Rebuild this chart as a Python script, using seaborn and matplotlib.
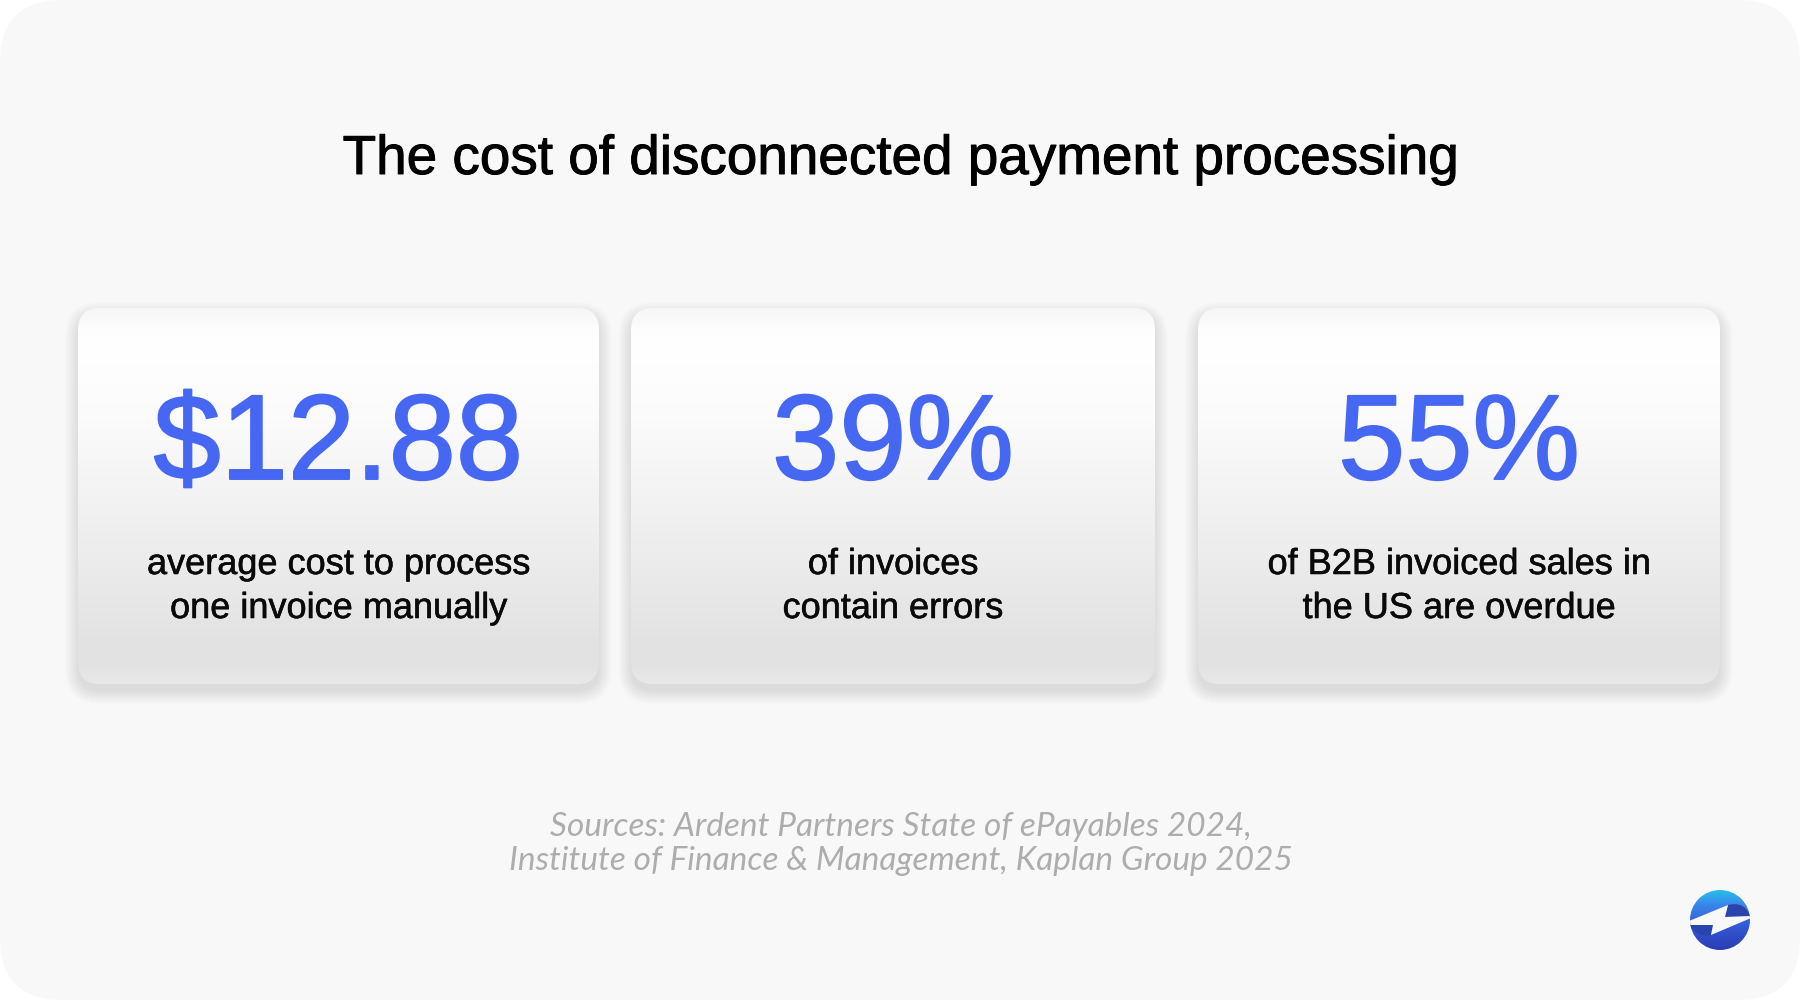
import matplotlib
matplotlib.use("Agg")
import matplotlib.pyplot as plt
import matplotlib.patheffects as pe
import numpy as np
import seaborn as sns
from matplotlib.colors import LinearSegmentedColormap
from matplotlib.patches import Circle, FancyBboxPatch, PathPatch, Polygon
from matplotlib.path import Path

# text content of the graphic
title = "The cost of disconnected payment processing"
stat_values = ["$12.88", "39%", "55%"]
stat_captions = [
    ["average cost to process", "one invoice manually"],
    ["of invoices", "contain errors"],
    ["of B2B invoiced sales in", "the US are overdue"],
]
sources = [
    "Sources: Ardent Partners State of ePayables 2024,",
    "Institute of Finance & Management, Kaplan Group 2025",
]

# card geometry in pixels: left, right
card_spans = [(78, 599), (631, 1155), (1198, 1720)]
card_top, card_bottom = 308, 684
card_radius = 22

BLUE = "#4667f2"
BG = "#f8f8f8"

sns.set_theme(style="white")
plt.rcParams["font.family"] = ["Liberation Sans", "DejaVu Sans"]


def bolder(width):
    return [pe.Stroke(linewidth=width), pe.Normal()]


fig = plt.figure(figsize=(18, 10), dpi=100, facecolor="white")
ax = fig.add_axes([0, 0, 1, 1])
ax.axis("off")

ax.add_patch(FancyBboxPatch((0, 0), 1800, 1000, boxstyle="round,pad=0,rounding_size=62",
                            fc=BG, ec="none", zorder=0))

card_cmap = LinearSegmentedColormap.from_list("card", [
    (0.0, "#f6f6f6"), (0.05, "#fdfdfd"), (0.10, "#ffffff"), (0.30, "#fbfbfb"),
    (0.60, "#efefef"), (0.90, "#e2e2e2"), (0.96, "#e3e3e3"), (1.0, "#e9e9e9"),
])
gradient = np.linspace(0, 1, 256).reshape(-1, 1)

for (x0, x1), value, caption in zip(card_spans, stat_values, stat_captions):
    # soft shadow, stacked translucent layers
    for grow in np.linspace(13, 0, 14):
        ax.add_patch(FancyBboxPatch(
            (x0 - grow, card_top + 7 - grow), x1 - x0 + 2 * grow, card_bottom - card_top + 2 * grow,
            boxstyle=f"round,pad=0,rounding_size={card_radius + grow}",
            fc="#808080", ec="none", alpha=0.010, zorder=1))
    box = FancyBboxPatch((x0, card_top), x1 - x0, card_bottom - card_top,
                         boxstyle=f"round,pad=0,rounding_size={card_radius}",
                         fc="none", ec="none", zorder=2)
    ax.add_patch(box)
    im = ax.imshow(gradient, cmap=card_cmap, vmin=0, vmax=1, aspect="auto", zorder=2,
                   extent=(x0, x1, card_bottom, card_top))
    im.set_clip_path(box)

    cx = (x0 + x1) / 2
    ax.text(cx, 479, value, color=BLUE, fontsize=87, ha="center", va="baseline", zorder=3,
            path_effects=bolder(1.4))
    for line, base in zip(caption, (574, 618)):
        ax.text(cx, base, line, color="#0a0a0a", fontsize=26, ha="center", va="baseline", zorder=3,
                path_effects=bolder(0.4))

ax.text(901, 174, title, color="black", fontsize=39.5, ha="center", va="baseline", zorder=3,
        path_effects=bolder(0.7))
for line, base in zip(sources, (836, 870)):
    ax.text(901, base, line, color="#adadad", fontsize=24, style="italic",
            family=["Lato", "DejaVu Sans"], ha="center", va="baseline", zorder=3)

# logo: gradient disc with a white bolt
lx, ly, lr = 1720, 920, 30
logo_cmap = LinearSegmentedColormap.from_list("logo", [
    (0.0, "#27c0ee"), (0.25, "#3a86e8"), (0.6, "#3458d8"), (1.0, "#2a3db0"),
])
disc = Circle((lx, ly), lr, fc="none", ec="none", zorder=3)
ax.add_patch(disc)
im = ax.imshow(gradient, cmap=logo_cmap, vmin=0, vmax=1, aspect="auto", zorder=3,
               extent=(lx - lr, lx + lr, ly + lr, ly - lr))
im.set_clip_path(disc)

upper = Path([(lx + 8, ly - 15), (lx + 20, ly - 18), (lx + 26, ly - 11), (lx + 31, ly - 4),
              (lx + 5, ly - 3), (lx + 8, ly - 15)],
             [Path.MOVETO, Path.CURVE3, Path.CURVE3, Path.LINETO, Path.LINETO, Path.CLOSEPOLY])
lower = Path([(lx - 31, ly + 5), (lx - 7, ly + 5), (lx - 9, ly + 15), (lx - 20, ly + 17),
              (lx - 26, ly + 11), (lx - 31, ly + 5)],
             [Path.MOVETO, Path.LINETO, Path.LINETO, Path.CURVE3, Path.CURVE3, Path.CLOSEPOLY])
for p in (upper, lower):
    patch = PathPatch(p, fc="#2a43ad", ec="none", zorder=4)
    ax.add_patch(patch)
    patch.set_clip_path(disc)
bolt = Polygon([(lx - 31, ly + 1), (lx + 8, ly - 15), (lx + 5, ly - 3), (lx + 31, ly - 4),
                (lx + 31, ly - 2), (lx - 9, ly + 15), (lx - 7, ly + 5), (lx - 31, ly + 5)],
               fc=BG, ec="none", zorder=5)
ax.add_patch(bolt)
bolt.set_clip_path(disc)

ax.set_xlim(0, 1800)
ax.set_ylim(1000, 0)

fig.savefig("out.png", dpi=100, facecolor="white")
